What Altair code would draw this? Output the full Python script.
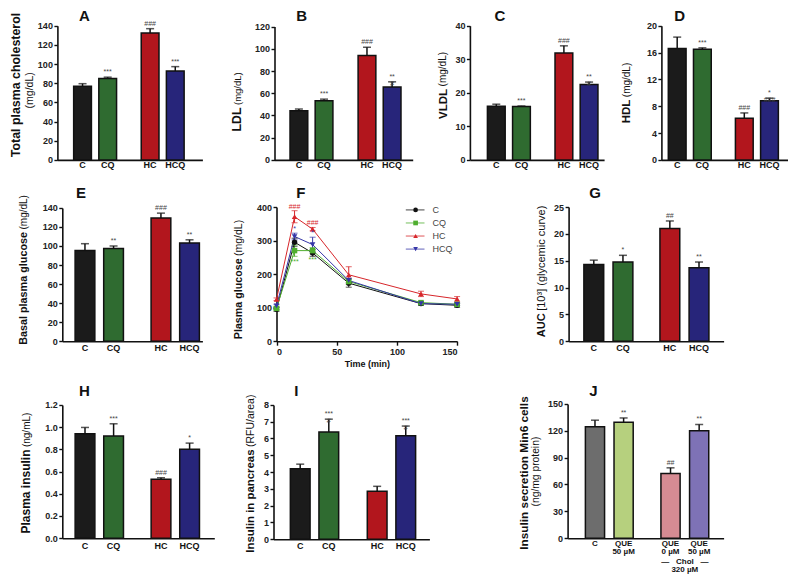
import altair as alt
import pandas as pd

FONT = "Liberation Sans"
INK = "#111111"

# ---------------- data ----------------
groups = ["ctl", "ctl", "chol", "chol"]
slots = ["a", "b", "a", "b"]
keys = ["k1", "k2", "k3", "k4"]
diet_labels = ["C", "CQ", "HC", "HCQ"]
diet_colors = ["#1b1b1b", "#2f6b30", "#b2161d", "#27257a"]

A_mean = [76.8, 85.0, 132.4, 92.8]
A_err = [2.7, 1.3, 4.5, 4.5]
A_ann = ["", "***", "###", "***"]

B_mean = [44.3, 53.2, 94.0, 65.6]
B_err = [1.5, 1.5, 7.4, 4.7]
B_ann = ["", "***", "###", "**\n#"]

C_mean = [16.0, 15.9, 31.9, 22.5]
C_err = [0.6, 0.2, 2.1, 0.7]
C_ann = ["", "***", "###", "**\n#"]

D_mean = [16.6, 16.5, 6.2, 8.8]
D_err = [1.7, 0.2, 0.8, 0.4]
D_ann = ["", "***", "###", "*\n###"]

E_mean = [95.2, 97.3, 129.4, 103.1]
E_err = [7.2, 2.7, 5.1, 3.4]
E_ann = ["", "**", "###", "**"]

G_mean = [14.3, 14.75, 21.0, 13.7]
G_err = [0.8, 1.25, 1.4, 1.05]
G_ann = ["", "*", "##", "**"]

H_mean = [0.94, 0.92, 0.53, 0.80]
H_err = [0.057, 0.11, 0.014, 0.056]
H_ann = ["", "***", "###", "*"]

I_mean = [4.19, 6.39, 2.85, 6.16]
I_err = [0.28, 0.76, 0.30, 0.58]
I_ann = ["", "***\n#", "", "***\n#"]

J_labels = ["C", "QUE\n50 µM", "QUE\n0 µM", "QUE\n50 µM"]
J_colors = ["#6d6d6d", "#b6d07e", "#d68b93", "#7e72b6"]
J_mean = [124.5, 129.6, 72.4, 120.1]
J_err = [7.3, 4.7, 6.2, 6.9]
J_ann = ["", "**", "##", "**"]

# glucose tolerance curve (panel F)
F_time = [0, 15, 30, 60, 120, 150]
F_series = ["C", "CQ", "HC", "HCQ"]
F_colors = ["#111111", "#4fae2f", "#d7262b", "#3535a8"]
F_shapes = ["circle", "square", "triangle-up", "triangle-down"]
F_C_mean = [95, 295, 263, 173, 112, 107]
F_C_sem = [6, 12, 10, 12, 5, 6]
F_CQ_mean = [98, 270, 270, 178, 115, 110]
F_CQ_sem = [5, 17, 9, 8, 4, 4]
F_HC_mean = [125, 371, 334, 198, 141, 126]
F_HC_sem = [4, 18, 5, 24, 8, 7]
F_HCQ_mean = [105, 312, 288, 181, 112, 110]
F_HCQ_sem = [5, 10, 22, 7, 4, 4]
F_ann_series = ["HC", "HCQ", "CQ", "HC", "HCQ", "CQ"]
F_ann_time = [15, 15, 15, 30, 30, 30]
F_ann_text = ["###", "*", "***", "###", "*", "***"]
F_ann_side = ["above", "above", "below", "above", "above", "below"]

# ---------------- layout (one canvas, each panel gets its own scale ranges) ----------------
TOTAL_W, TOTAL_H = 780, 565


def PX(r):  # figure x (reference grid) -> canvas x
    return round((r - 3) * 0.987, 1)


def PY(r):  # figure y (reference grid) -> canvas y
    return round((r - 3) * 0.98, 1)


def text_at(txt, x, y, size, weight="normal", align="left", baseline="alphabetic", angle=0, color=INK):
    kw = dict(font=FONT, fontSize=size, fontWeight=weight, align=align, baseline=baseline, color=color)
    if angle:
        kw["angle"] = angle
    return alt.Chart(pd.DataFrame({"t": [txt]})).mark_text(**kw).encode(
        x=alt.value(x), y=alt.value(y), text="t:N")


def y_axis(x0, ticks, fmt, title, tsize, tx, ty, talign):
    return alt.Axis(orient="left", offset=-x0, values=ticks, format=fmt, grid=False, domainColor=INK,
                    domainWidth=1.6, tickColor=INK, tickWidth=1.4, tickSize=3.5, labelPadding=1.5,
                    labelFontSize=9, labelFontWeight="bold", labelColor="#222", labelFont=FONT,
                    title=title, titleFont=FONT, titleFontSize=tsize, titleFontWeight="bold",
                    titleColor=INK, titleAngle=270, titleX=tx, titleY=ty, titleAlign=talign,
                    titleBaseline="alphabetic")


def bar_panel(p):
    df = pd.DataFrame({"grp": groups, "slot": slots, "key": keys, "label": p["labels"],
                       "mean": p["mean"], "err": p["err"], "ann": p["ann"]})
    x0, x1 = PX(p["xr"][0]), PX(p["xr"][1])
    yt, yb = PY(p["yr"][0]), PY(p["yr"][1])
    pi, po, al, pin = p["band"]
    xs = alt.X("grp:N", scale=alt.Scale(domain=["ctl", "chol"], range=[x0, x1], paddingInner=pi,
                                        paddingOuter=po, align=al),
               axis=alt.Axis(orient="bottom", offset=yb - TOTAL_H, labels=False, ticks=False, title=None,
                             domainColor=INK, domainWidth=1.6))
    xo = alt.XOffset("slot:N", scale=alt.Scale(domain=["a", "b"], paddingInner=pin, paddingOuter=0))
    ticks = p["ticks"]
    tb, tj = p["tpos"]
    ax = y_axis(x0, ticks, p["fmt"], p["title"], p["tsize"], PX(tb) - x0, PY(tj), p["talign"])
    ysc = alt.Scale(domain=[0, ticks[-1]], range=[yb, yt], nice=False)

    def Y(f):
        return alt.Y(f, scale=ysc, axis=ax)

    base = alt.Chart(df).transform_calculate(hi="datum.mean + datum.err")
    bars = base.mark_bar(stroke=INK, strokeWidth=1.5).encode(
        x=xs, xOffset=xo, y=Y("mean:Q"),
        color=alt.Color("key:N", scale=alt.Scale(domain=keys, range=p["colors"]), legend=None))
    rule = base.mark_rule(color=INK, strokeWidth=1.5).encode(x=xs, xOffset=xo, y=Y("mean:Q"), y2="hi:Q")
    cap = base.mark_tick(color=INK, thickness=1.5, size=8, orient="horizontal").encode(
        x=xs, xOffset=xo, y=Y("hi:Q"))
    ann = base.mark_text(font=FONT, fontSize=7, color="#444", baseline="bottom", dy=-2,
                         lineBreak="\n", lineHeight=7).encode(x=xs, xOffset=xo, y=Y("hi:Q"), text="ann:N")
    lab = base.mark_text(font=FONT, fontSize=p.get("lsize", 9), fontWeight="bold", color=INK,
                         baseline="top", lineBreak="\n", lineHeight=p.get("lh", 9)).encode(
        x=xs, xOffset=xo, y=alt.value(PY(p["labtop"])), text="label:N")
    ub, uc = p["upos"]
    layers = [bars, rule, cap, ann, lab,
              text_at(p["unit"], PX(ub), PY(uc), p["usize"], align=p["ualign"], angle=270),
              text_at(p["letter"], PX(p["lpos"][0]), PY(p["lpos"][1]), 15, weight="bold")]
    for extra_text, ey in p.get("extra", []):
        layers.append(alt.Chart(pd.DataFrame({"grp": ["chol"], "t": [extra_text]})).mark_text(
            font=FONT, fontSize=8, fontWeight="bold", color=INK, baseline="middle").encode(
            x=xs, y=alt.value(PY(ey)), text="t:N"))
    return alt.layer(*layers)


A = bar_panel(dict(letter="A", lpos=(75, 15), xr=(53, 200), yr=(20, 157), mean=A_mean, err=A_err, ann=A_ann,
                   labels=diet_labels, colors=diet_colors, ticks=[0, 20, 40, 60, 80, 100, 120, 140], fmt="d",
                   band=(0.365, 0.2555, 0.471, 0.294), title="Total plasma cholesterol", tsize=12.4,
                   tpos=(15, 80), talign="center", unit="(mg/dL)", usize=10.5, upos=(28, 86), ualign="center",
                   labtop=158.5))
B = bar_panel(dict(letter="B", lpos=(295, 15), xr=(273, 413), yr=(21, 157), mean=B_mean, err=B_err, ann=B_ann,
                   labels=diet_labels, colors=diet_colors, ticks=[0, 20, 40, 60, 80, 100, 120], fmt="d",
                   band=(0.37, 0.2, 0.57, 0.294), title="LDL", tsize=12.3,
                   tpos=(239, 103), talign="right", unit="(mg/dL)", usize=9.5, upos=(239, 101), ualign="left",
                   labtop=158.5))
C = bar_panel(dict(letter="C", lpos=(496, 15), xr=(471, 607), yr=(20, 157), mean=C_mean, err=C_err, ann=C_ann,
                   labels=diet_labels, colors=diet_colors, ticks=[0, 10, 20, 30, 40], fmt="d",
                   band=(0.365, 0.175, 0.74, 0.294), title="VLDL", tsize=11.5,
                   tpos=(447, 84), talign="right", unit="(mg/dL)", usize=10, upos=(447, 82), ualign="left",
                   labtop=158.5))
D = bar_panel(dict(letter="D", lpos=(678, 15), xr=(665, 793), yr=(20, 157), mean=D_mean, err=D_err, ann=D_ann,
                   labels=diet_labels, colors=diet_colors, ticks=[0, 4, 8, 12, 16, 20], fmt="d",
                   band=(0.36, 0.121, 0.425, 0.294), title="HDL", tsize=11.5,
                   tpos=(633, 95), talign="right", unit="(mg/dL)", usize=10, upos=(633, 93), ualign="left",
                   labtop=158.5))
E = bar_panel(dict(letter="E", lpos=(72, 196), xr=(58, 200), yr=(206, 342), mean=E_mean, err=E_err, ann=E_ann,
                   labels=diet_labels, colors=diet_colors, ticks=[0, 20, 40, 60, 80, 100, 120, 140], fmt="d",
                   band=(0.364, 0.104, 0.81, 0.31), title="Basal plasma glucose", tsize=10.8,
                   tpos=(22, 230), talign="right", unit="(mg/dL)", usize=10, upos=(22, 228), ualign="left",
                   labtop=344.5))
G = bar_panel(dict(letter="G", lpos=(592, 196), xr=(571, 728), yr=(205, 342), mean=G_mean, err=G_err, ann=G_ann,
                   labels=diet_labels, colors=diet_colors, ticks=[0, 5, 10, 15, 20, 25], fmt="d",
                   band=(0.356, 0.197, 0.51, 0.32), title="AUC", tsize=11,
                   tpos=(547, 313), talign="right", unit="[10³] (glycemic curve)", usize=11, upos=(547, 311),
                   ualign="left", labtop=344.5))
Hp = bar_panel(dict(letter="H", lpos=(75, 398), xr=(58, 212), yr=(407, 543), mean=H_mean, err=H_err, ann=H_ann,
                    labels=diet_labels, colors=diet_colors, ticks=[0, 0.2, 0.4, 0.6, 0.8, 1.0, 1.2], fmt=".1f",
                    band=(0.364, 0.182, 0.464, 0.31), title="Plasma insulin", tsize=12,
                    tpos=(25, 452), talign="right", unit="(ng/mL)", usize=10, upos=(25, 450), ualign="left",
                    labtop=546.5))
I = bar_panel(dict(letter="I", lpos=(293, 398), xr=(272, 430), yr=(407, 544), mean=I_mean, err=I_err, ann=I_ann,
                   labels=diet_labels, colors=diet_colors, ticks=[0, 1, 2, 3, 4, 5, 6, 7, 8], fmt="d",
                   band=(0.372, 0.199, 0.55, 0.31), title="Insulin in pancreas", tsize=11.4,
                   tpos=(252, 452), talign="right", unit="(RFU/area)", usize=10.5, upos=(252, 450), ualign="left",
                   labtop=546.5))
J = bar_panel(dict(letter="J", lpos=(592, 398), xr=(570, 728), yr=(406, 543), mean=J_mean, err=J_err, ann=J_ann,
                   labels=J_labels, colors=J_colors, ticks=[0, 30, 60, 90, 120, 150], fmt="d",
                   band=(0.367, 0.216, 0.545, 0.33), title="Insulin secretion Min6 cells", tsize=11.8,
                   tpos=(529, 476), talign="center", unit="(ng/mg protein)", usize=10.3, upos=(541, 475),
                   ualign="center", lsize=8, lh=8, labtop=545,
                   extra=[("—\u00a0\u00a0\u00a0Chol\u00a0\u00a0\u00a0—", 567.5), ("320 µM", 575.5)]))

# ---------------- panel F ----------------
f_means = {"C": (F_C_mean, F_C_sem), "CQ": (F_CQ_mean, F_CQ_sem),
           "HC": (F_HC_mean, F_HC_sem), "HCQ": (F_HCQ_mean, F_HCQ_sem)}
f_rows = []
for s in F_series:
    m, e = f_means[s]
    for t, mm, ee in zip(F_time, m, e):
        f_rows.append({"series": s, "t": t, "mean": mm, "sem": ee})
fdf = pd.DataFrame(f_rows)

ann_rows = []
for s, t, txt, side in zip(F_ann_series, F_ann_time, F_ann_text, F_ann_side):
    m, e = f_means[s]
    i = F_time.index(t)
    ann_rows.append({"series": s, "t": t, "txt": txt, "side": side,
                     "y": m[i] + e[i] if side == "above" else m[i] - e[i]})
fann = pd.DataFrame(ann_rows)

fx0, fx1 = PX(275), PX(458)
fyt, fyb = PY(205), PY(342)
fx = alt.X("t:Q", scale=alt.Scale(domain=[0, 150], range=[fx0, fx1], nice=False),
           axis=alt.Axis(orient="bottom", offset=fyb - TOTAL_H, values=[0, 50, 100, 150], format="d",
                         grid=False, domainColor=INK, domainWidth=1.6, tickColor=INK, tickWidth=1.4,
                         tickSize=4, labelFontSize=9, labelFontWeight="bold", labelColor="#222",
                         labelFont=FONT, labelPadding=2, title="Time (min)", titleFont=FONT, titleFontSize=9,
                         titleFontWeight="bold", titleColor=INK, titlePadding=3))
fax = y_axis(fx0, [0, 100, 200, 300, 400], "d", "Plasma glucose", 10.7, PX(240) - fx0, PY(257), "right")
fysc = alt.Scale(domain=[0, 400], range=[fyb, fyt], nice=False)


def FY(f):
    return alt.Y(f, scale=fysc, axis=fax)


def fcolor():
    return alt.Color("series:N", scale=alt.Scale(domain=F_series, range=F_colors), legend=None)


def fshape():
    return alt.Shape("series:N", scale=alt.Scale(domain=F_series, range=F_shapes), legend=None)


fbase = alt.Chart(fdf).transform_calculate(hi="datum.mean + datum.sem", lo="datum.mean - datum.sem")
flines = fbase.mark_line(strokeWidth=1).encode(x=fx, y=FY("mean:Q"), color=fcolor(), detail="series:N")
frule = fbase.mark_rule(strokeWidth=1).encode(x=fx, y=FY("lo:Q"), y2="hi:Q", color=fcolor())
fcap_hi = fbase.mark_tick(thickness=1, size=6, orient="horizontal").encode(x=fx, y=FY("hi:Q"), color=fcolor())
fcap_lo = fbase.mark_tick(thickness=1, size=6, orient="horizontal").encode(x=fx, y=FY("lo:Q"), color=fcolor())
fpts = fbase.mark_point(filled=True, size=30, opacity=1).encode(
    x=fx, y=FY("mean:Q"), color=fcolor(), shape=fshape())
fann_up = alt.Chart(fann).transform_filter("datum.side == 'above'").mark_text(
    font=FONT, fontSize=7, baseline="bottom", dy=-1).encode(x=fx, y=FY("y:Q"), text="txt:N", color=fcolor())
fann_dn = alt.Chart(fann).transform_filter("datum.side == 'below'").mark_text(
    font=FONT, fontSize=7, baseline="top", dy=2).encode(x=fx, y=FY("y:Q"), text="txt:N", color=fcolor())
F = alt.layer(flines, frule, fcap_lo, fcap_hi, fpts, fann_up, fann_dn,
              text_at("(mg/dL)", PX(240), PY(255), 10.5, angle=270),
              text_at("F", PX(295), PY(196), 15, weight="bold"))

# legend of panel F (series placed by a point scale)
leg_df = pd.DataFrame({"series": F_series})
ly = alt.Y("series:N", scale=alt.Scale(type="point", domain=F_series, range=[PY(208), PY(248)], padding=0),
           axis=None)
leg_base = alt.Chart(leg_df)
FL = alt.layer(
    leg_base.mark_rule(strokeWidth=1.2, opacity=0.65).encode(
        x=alt.value(PX(406)), x2=alt.value(PX(425)), y=ly, color=fcolor()),
    leg_base.mark_point(filled=True, size=22, opacity=1).encode(
        x=alt.value(PX(416)), y=ly, color=fcolor(), shape=fshape()),
    leg_base.mark_text(font=FONT, fontSize=9, color="#444", align="left", baseline="middle").encode(
        x=alt.value(PX(433)), y=ly, text="series:N"),
)

chart = alt.layer(A, B, C, D, E, F, FL, G, Hp, I, J).resolve_scale(
    x="independent", y="independent", xOffset="independent", color="independent", shape="independent"
).resolve_axis(x="independent", y="independent").properties(
    width=TOTAL_W, height=TOTAL_H, padding=0).configure(font=FONT).configure_view(strokeWidth=0)

chart.save("out.html", embed_options={"renderer": "svg", "actions": False})
